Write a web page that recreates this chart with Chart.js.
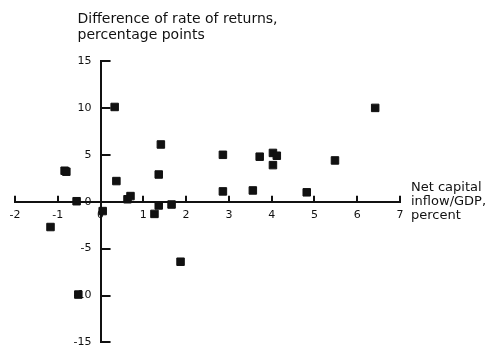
<!DOCTYPE html>
<html>
<head>
<meta charset="utf-8">
<script src="https://cdn.jsdelivr.net/npm/chart.js@4/dist/chart.umd.min.js"></script>
<style>
  html, body { margin: 0; padding: 0; background: #fff; }
  #wrap { width: 498px; height: 352px; position: relative; }
</style>
</head>
<body>
<div id="wrap"><canvas id="scatter"></canvas></div>
<script>
// Net capital inflow / GDP (percent) vs. difference of rate of returns (pp)
const inflowPct = [0.33, -0.84, -0.80, 0.37, -0.56, 0.05, -1.17, 0.63, 0.70, 1.41, 1.36, 1.36, 1.26,
                   1.66, 1.87, 2.86, 2.86, 3.56, 3.72, 4.03, 4.12, 4.03, 4.82, 5.48, 6.42, -0.52];
const returnDiff = [10.1, 3.3, 3.2, 2.2, 0.05, -1.0, -2.7, 0.26, 0.6, 6.1, 2.9, -0.4, -1.3,
                    -0.3, -6.4, 5.0, 1.1, 1.2, 4.8, 5.2, 4.9, 3.9, 1.0, 4.4, 10.0, -9.9];

const xTicks = [-2, -1, 0, 1, 2, 3, 4, 5, 6, 7];
const yTicks = [-15, -10, -5, 0, 5, 10, 15];

const yCaption = ['Difference of rate of returns,', 'percentage points'];
const xCaption = ['Net capital', 'inflow/GDP,', 'percent'];

const ink = '#111';
const fontFamily = "'DejaVu Sans', sans-serif";
const tickFont = { family: fontFamily, size: 11 };

// captions next to the axes, plus the short inward tick marks
const axisDecor = {
    id: 'axisDecor',
    afterDraw(chart) {
        const { ctx, scales: { x, y } } = chart;
        const x0 = x.getPixelForValue(0);
        const y0 = y.getPixelForValue(0);
        ctx.save();
        ctx.strokeStyle = ink;
        ctx.lineWidth = 2;
        ctx.beginPath();
        yTicks.forEach(v => {
            const py = Math.round(y.getPixelForValue(v));
            ctx.moveTo(x0, py);
            ctx.lineTo(x0 + 10, py);
        });
        xTicks.forEach(v => {
            const px = Math.round(x.getPixelForValue(v));
            ctx.moveTo(px, y0);
            ctx.lineTo(px, y0 - 6);
        });
        ctx.stroke();

        ctx.fillStyle = ink;
        ctx.textAlign = 'left';
        ctx.textBaseline = 'top';
        ctx.font = `14px ${fontFamily}`;
        yCaption.forEach((line, i) => ctx.fillText(line, x0 - 23, y.top - 49 + i * 16));
        ctx.font = `13px ${fontFamily}`;
        xCaption.forEach((line, i) => ctx.fillText(line, x.right + 11, y0 - 21 + i * 14));
        ctx.restore();
    }
};

const points = inflowPct.map((v, i) => ({ x: v, y: returnDiff[i] }));
const setYTicks = (s) => { s.ticks = yTicks.map(v => ({ value: v })); };

new Chart(document.getElementById('scatter'), {
    type: 'scatter',
    data: {
        datasets: [{
            data: points,
            pointStyle: 'rect',
            pointRadius: 5.3,
            pointHoverRadius: 5.3,
            backgroundColor: ink,
            borderColor: ink,
            borderWidth: 1
        }]
    },
    options: {
        responsive: true,
        maintainAspectRatio: false,
        animation: false,
        layout: { padding: { left: 15, right: 98, top: 61, bottom: -17 } },
        plugins: { legend: { display: false }, tooltip: { enabled: false } },
        scales: {
            x: {
                type: 'linear',
                position: { y: 0 },
                min: -2, max: 7,
                afterBuildTicks: (s) => { s.ticks = xTicks.map(v => ({ value: v })); },
                grid: { display: false, drawTicks: false },
                border: { color: ink, width: 2 },
                ticks: { color: ink, font: tickFont, padding: 7, maxRotation: 0 }
            },
            // axis line only; labels come from yLabels
            y: {
                type: 'linear',
                position: { x: 0 },
                min: -15, max: 15,
                afterBuildTicks: setYTicks,
                grid: { display: false, drawTicks: false },
                border: { color: ink, width: 2 },
                ticks: { display: false }
            },
            // labels only, set a little left of the axis line
            yLabels: {
                type: 'linear',
                axis: 'y',
                position: { x: -0.21 },
                min: -15, max: 15,
                afterBuildTicks: setYTicks,
                grid: { display: false },
                border: { display: false },
                ticks: { color: ink, font: tickFont }
            }
        }
    },
    plugins: [axisDecor]
});
</script>
</body>
</html>
